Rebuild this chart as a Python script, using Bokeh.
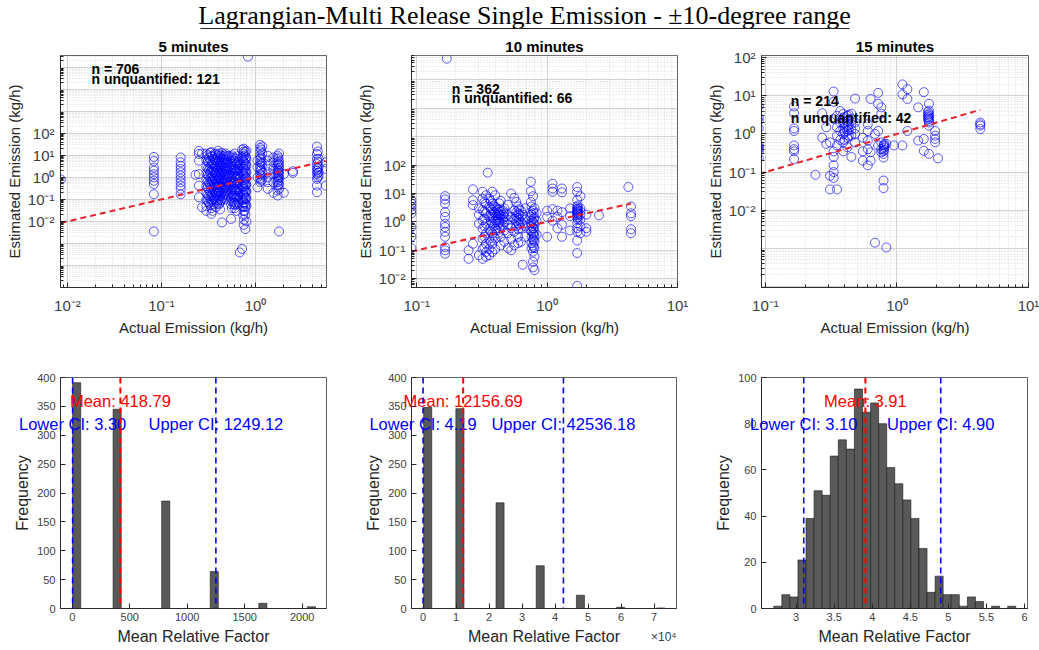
import numpy as np
from bokeh.plotting import figure
from bokeh.models import Range1d, FixedTicker, CustomJSTickFormatter, Label, Span
from bokeh.layouts import column, row
from bokeh.core.properties import value
from bokeh.embed import file_html
from bokeh.resources import INLINE

# ---------------- data ----------------
suptitle = "Lagrangian-Multi Release Single Emission - \u00b110-degree range"
panel_titles = ["5 minutes", "10 minutes", "15 minutes"]
n_total = [706, 362, 214]
n_unquantified = [121, 66, 42]

# 5 minutes: actual emission per column and estimated emissions in that column
act_5 = [0.0085, 0.083, 0.16, 0.23, 0.25, 0.27, 0.30, 0.32, 0.34, 0.36, 0.38, 0.40, 0.42, 0.44,
         0.46, 0.48, 0.50, 0.52, 0.55, 0.58, 0.60, 0.63, 0.66, 0.68, 0.72, 0.75, 0.78, 0.80, 0.83,
         1.05, 1.12, 1.18, 1.35, 1.55, 1.72, 1.78, 2.0, 2.5, 4.5, 4.7, 5.6,
         0.31, 0.33, 0.35, 0.37, 0.39, 0.41, 0.43, 0.45, 0.47, 0.49, 0.56, 0.59, 0.61, 0.64,
         0.74, 0.77, 0.79, 1.15, 1.75, 4.6]
est_5 = [
    [0.8],
    [8.5, 5.5, 2.8, 2.0, 1.4, 1.0, 0.7, 0.5, 0.17, 0.0035],
    [8.0, 4.8, 3.3, 2.4, 1.7, 1.2, 0.85, 0.6, 0.42, 0.3, 0.17],
    [1.3],
    [16, 11.5, 5.7, 1.4, 0.42, 0.125],
    [0.044, 12],
    [12, 6, 3, 1.5, 0.8, 0.4, 0.2, 0.1, 0.05, 0.03],
    [8, 4.5, 2.2, 1.1, 0.55, 0.28, 0.14, 0.07],
    [14, 9, 4, 2, 1, 0.6, 0.3, 0.15, 0.08, 0.04, 0.022],
    [7, 3.5, 1.8, 0.9, 0.5, 0.25, 0.12, 0.06],
    [11, 5.5, 2.8, 1.4, 0.7, 0.35, 0.18, 0.09, 0.045],
    [16, 10, 5, 2.5, 1.3, 0.7, 0.35, 0.18, 0.09],
    [8, 4, 2, 1.1, 0.55, 0.28, 0.14, 0.07, 0.035],
    [13, 6.5, 3.2, 1.6, 0.8, 0.4, 0.2, 0.1, 0.009],
    [9, 4.5, 2.3, 1.2, 0.6, 0.3, 0.15],
    [12, 6, 3, 1.5, 0.75, 0.38, 0.19, 0.1],
    [9, 4.5, 2.2, 1.1, 0.6, 0.3, 0.15],
    [9.6, 3, 1.2, 0.45],
    [8, 4, 2, 1, 0.5, 0.25, 0.12, 0.06, 0.013],
    [6, 3, 1.5, 0.7, 0.35, 0.17, 0.08],
    [12, 5.5, 2.5, 1.2, 0.6, 0.3, 0.15, 0.07, 0.04],
    [4, 2, 1, 0.5, 0.25, 0.12, 0.06, 0.03],
    [5, 2.5, 1.2, 0.6, 0.3, 0.15, 0.07],
    [0.00039, 3.5, 0.9, 0.2],
    [0.00056, 18, 8, 1.8, 0.4, 0.1, 0.05],
    [20, 15, 9, 5, 2.5, 1.2, 0.6, 0.3, 0.15, 0.07, 0.03, 0.012, 0.007],
    [14, 6, 3, 1.5, 0.8, 0.4, 0.2, 0.1, 0.045, 0.02, 0.0045],
    [16, 7, 3.5, 1.7, 0.9, 0.45, 0.22, 0.11, 0.05, 0.01],
    [3.0e5],
    [5.7, 2.8, 1.0, 0.35],
    [30, 22, 15, 10, 7, 5, 3.5, 2.6, 2.0, 1.4, 0.9, 0.6],
    [25, 12, 4, 1.6, 0.8],
    [9.6, 5.7, 3.4, 1.7, 1.0, 0.6, 0.3],
    [8, 4.8, 2.4, 1.4, 0.6, 0.2],
    [9.6, 6.8, 4.8, 3.4, 2.4, 1.7, 1.2, 0.84, 0.6, 0.42, 0.25, 0.15],
    [12, 5.5, 3.8, 2.7, 1.9, 1.3, 0.9, 0.5, 0.3, 0.0035],
    [1.4, 0.2],
    [1.9, 1.6],
    [25, 11.5, 6.8, 4.0, 2.8, 2.0, 1.4, 0.84, 0.42, 0.21],
    [7, 3, 1.7, 1.2],
    [4.8, 2.4, 0.42],
    [10, 5, 2.5, 1.3, 0.65, 0.33, 0.16, 0.08],
    [13, 6, 3, 1.6, 0.9, 0.45, 0.22, 0.11, 0.055],
    [9, 4.5, 2.4, 1.2, 0.7, 0.35, 0.18, 0.09, 0.03],
    [12, 6, 3, 1.6, 0.8, 0.4, 0.2, 0.1],
    [8, 4, 2, 1, 0.5, 0.25, 0.13, 0.065],
    [12, 6, 3.2, 1.7, 0.9, 0.45, 0.22, 0.11, 0.06],
    [10, 5, 2.6, 1.4, 0.7, 0.36, 0.18, 0.09],
    [7, 3.5, 1.8, 0.95, 0.5, 0.25, 0.12],
    [10, 5, 2.6, 1.3, 0.65, 0.33, 0.17],
    [7, 3.6, 1.8, 0.9, 0.45, 0.23],
    [10, 5, 2.5, 1.3, 0.65, 0.33, 0.16, 0.08, 0.04],
    [8, 4, 2, 1, 0.5, 0.25, 0.12, 0.06],
    [7, 3.5, 1.8, 0.9, 0.45, 0.22, 0.11, 0.055],
    [9, 4.5, 2.2, 1.1, 0.55, 0.28, 0.14],
    [12, 6, 3, 1.5, 0.75, 0.38, 0.19, 0.09, 0.045, 0.02],
    [10, 4.5, 2.2, 1.1, 0.55, 0.28, 0.14, 0.07, 0.03],
    [8, 4, 2, 1, 0.5, 0.25, 0.12, 0.06],
    [18, 8, 4.5, 2.2, 1.2, 0.7],
    [8, 4, 2, 1.5, 1.0, 0.7, 0.45],
    [15, 5, 2.4, 1.6, 1.0],
]

act_10 = [0.091, 0.165, 0.17, 0.25, 0.27, 0.30, 0.32, 0.34, 0.35, 0.36, 0.38, 0.40, 0.42, 0.44,
          0.47, 0.50, 0.53, 0.56, 0.60, 0.63, 0.65, 0.68, 0.75, 0.78, 0.80, 0.83, 1.0, 1.1, 1.2,
          1.3, 1.5, 1.7, 1.8, 2.0, 2.5, 4.2, 4.4,
          0.33, 0.37, 0.39, 0.41, 0.43, 0.46, 0.58, 0.61, 0.76, 0.79, 1.72]
est_10 = [
    [5.8, 4.4, 3.4, 2.6, 2.0, 0.66, 0.3, 0.12],
    [8.1, 6.2, 4.4, 2.2, 1.5, 0.87, 0.66, 0.45, 0.3, 0.13, 0.1, 0.076],
    [5.6e5],
    [0.1, 0.05],
    [14, 5.8, 3.9, 0.17],
    [3.0, 0.87, 0.067, 1.8],
    [11.5, 6.6, 2.6, 1.15, 0.58, 0.26, 0.11, 0.05],
    [8.7, 4.4, 2.0, 0.87, 0.39, 0.17, 0.087, 0.06],
    [54],
    [6.6, 3.4, 1.5, 0.58, 0.26, 0.11, 0.067],
    [11.5, 4.4, 2.6, 1.5, 0.87, 0.39, 0.17, 0.087],
    [8.7, 3.4, 2.0, 1.15, 0.58, 0.26, 0.11],
    [2.6, 2.0, 1.5, 1.15, 0.87, 0.39],
    [5.5, 2.3, 1.7, 1.3, 0.7, 0.3, 0.15],
    [3.0, 2.0, 1.5, 1.0, 0.5, 0.2],
    [4.0, 1.8, 1.2, 0.8, 0.4, 0.12],
    [10, 1.5, 0.6, 0.25, 0.1],
    [7, 2.5, 1.3, 0.45, 0.15],
    [3.5, 2.0, 1.4, 0.9, 0.55, 0.3, 0.18],
    [2.5, 1.6, 1.0, 0.6, 0.2],
    [1.8, 0.8, 0.031],
    [3.0, 1.2, 0.7, 0.3],
    [26, 12, 5, 2.2, 1.5, 0.9, 0.5],
    [8, 2.5, 1.0, 0.6, 0.4, 0.25, 0.15, 0.09, 0.04, 0.025],
    [3, 1.4, 0.8, 0.45, 0.3, 0.2, 0.12, 0.06, 0.02],
    [2.0, 1.1, 0.35],
    [2.5, 1.5, 0.3],
    [22, 15, 11.5, 2.8, 1.1],
    [2.5, 1.5, 0.6],
    [15, 11, 2.2, 0.8, 0.3],
    [3.0, 1.6, 0.5],
    [17, 11.5, 6, 3.4, 2.8, 2.5, 2.2, 2.0, 1.7, 1.4, 0.9, 0.6, 0.45, 0.22, 0.08, 0.0056],
    [8, 3.0, 2.4, 1.8, 1.2, 0.7, 0.4],
    [1.8, 0.6, 0.45],
    [1.7],
    [17],
    [3.5, 2.0, 1.6, 0.55, 0.4],
    [5, 2.3, 1.3, 0.7, 0.3, 0.13],
    [5.5, 3, 1.8, 1.0, 0.45, 0.2],
    [3.8, 2.2, 1.3, 0.7, 0.3],
    [3.0, 1.7, 1.0, 0.5],
    [4.5, 2.8, 1.8, 1.0, 0.6],
    [2.5, 1.8, 1.2, 0.8],
    [5, 2.2, 1.6, 1.1, 0.7],
    [2.8, 1.8, 1.2, 0.8],
    [3.5, 1.8, 1.1, 0.7, 0.45, 0.3, 0.18, 0.12],
    [2.0, 1.3, 0.9, 0.6, 0.35, 0.22, 0.13],
    [3.8, 3.0, 2.6, 2.3, 2.0, 1.8, 1.5, 1.2],
]

act_15 = [0.089, 0.165, 0.24, 0.27, 0.29, 0.31, 0.33, 0.35, 0.37, 0.39, 0.42, 0.45, 0.48, 0.55,
          0.60, 0.63, 0.68, 0.72, 0.76, 0.79, 0.83, 0.95, 1.1, 1.2, 1.45, 1.6, 1.75, 1.95, 2.05, 4.3,
          0.40, 0.43, 0.80, 1.72]
est_15 = [
    [5.3, 2.7, 2.2, 1.4, 0.5, 0.45, 0.4, 0.35, 0.23],
    [5.3, 3.5, 1.4, 1.2, 0.5, 0.4, 0.35, 0.22],
    [0.085],
    [3.5, 0.8],
    [1.5, 0.55],
    [0.08, 0.035, 0.6],
    [13, 7, 2.5, 0.35, 0.25, 0.15, 0.1, 0.07],
    [3.0, 1.5, 0.9, 0.5, 0.035],
    [4, 2, 1.2, 0.7],
    [3.4, 2.6, 1.9, 1.4, 1.0, 0.6, 0.35],
    [3.0, 2.2, 1.6, 1.2, 0.8, 0.45],
    [3.4, 2.5, 1.8, 1.3, 0.9, 0.25],
    [8.5, 2.0, 1.4, 1.0, 0.6],
    [0.2, 0.35, 0.8],
    [1.8, 1.2, 0.67, 0.4, 0.15],
    [8.3, 0.33, 0.2],
    [1.0, 0.0014],
    [12, 6.2, 1.2, 0.5],
    [5, 3.4, 0.6, 0.4, 0.33],
    [0.5, 0.42, 0.35, 0.3, 0.24, 0.06, 0.038],
    [0.00105, 0.55],
    [0.5],
    [0.5, 20, 11],
    [1.2, 15, 8.3],
    [5, 0.67],
    [12.5, 0.74, 0.36],
    [6.2, 4.1, 3.4, 3.0, 2.7, 2.5, 2.2, 2.0, 1.65, 0.3],
    [1.2, 0.9, 0.74, 0.6],
    [0.23],
    [2.0, 1.8, 1.65, 1.35],
    [2.8, 2.0, 1.5, 1.1, 0.7],
    [3.2, 2.4, 1.7, 1.3, 0.9],
    [0.55, 0.45, 0.38, 0.5],
    [3.8, 3.2, 2.8, 2.4],
]

# bootstrap histograms: bin left edges, bin widths, counts
hist5_left = [3.3, 355.3, 777.7, 1200.1, 1622.5, 2044.9]
hist5_width = 70.4
hist5_count = [391, 345, 186, 64, 9, 3]

hist10_left = [200, 9940, 22115, 34290, 46465, 58640, 70815]
hist10_width = 2435
hist10_count = [348, 346, 183, 74, 23, 2, 1]

hist15_left = [2.706, 2.812, 2.918, 3.024, 3.130, 3.236, 3.342, 3.448, 3.554, 3.660,
               3.766, 3.872, 3.978, 4.084, 4.190, 4.296, 4.402, 4.508, 4.614, 4.720,
               4.826, 4.932, 5.038, 5.144, 5.250, 5.356, 5.462, 5.568, 5.674, 5.780]
hist15_width = 0.106
hist15_count = [1, 6, 5, 21, 39, 51, 49, 66, 73, 69, 95, 85, 89, 80, 61, 54, 47, 39, 26, 7,
                14, 6, 6, 1, 5, 3, 0, 1, 0, 1]

hist_mean = [418.79, 12156.69, 3.91]
hist_ci_low = [3.30, 4.19, 3.10]
hist_ci_high = [1249.12, 42536.18, 4.90]

# ---------------- style ----------------
FONT = "Liberation Sans"
TXT = "#262626"
TICK_TXT = "#404040"

SUP_JS = """
const e = Math.round(Math.log10(tick));
const m = {"-":"\\u207b","0":"\\u2070","1":"\\u00b9","2":"\\u00b2","3":"\\u00b3","4":"\\u2074",
           "5":"\\u2075","6":"\\u2076","7":"\\u2077","8":"\\u2078","9":"\\u2079"};
return "10" + String(e).split("").map(c => m[c]).join("");
"""

decades = [10.0 ** k for k in range(-7, 8)]
subdecades = [m * 10.0 ** k for k in range(-7, 8) for m in range(2, 10)]


def flatten(xcols, ycols):
    xs, ys = [], []
    for xv, col in zip(xcols, ycols):
        for yv in col:
            xs.append(xv)
            ys.append(yv)
    return xs, ys


def base_style(p):
    p.background_fill_color = "white"
    p.border_fill_color = "white"
    p.outline_line_color = TXT
    p.outline_line_width = 0.8
    p.outline_line_alpha = 0.9
    for ax in (p.xaxis[0], p.yaxis[0]):
        ax.axis_line_color = TXT
        ax.axis_line_width = 0.9
        ax.major_tick_line_color = TXT
        ax.minor_tick_line_color = TXT
        ax.major_tick_in = 5
        ax.major_tick_out = 0
        ax.minor_tick_in = 3
        ax.minor_tick_out = 0
        ax.major_label_text_color = TICK_TXT
        ax.major_label_text_font = FONT
        ax.axis_label_text_color = TXT
        ax.axis_label_text_font = FONT
        ax.axis_label_text_font_style = "normal"


def scatter_panel(i, xcols, ycols, xexp, yexp, xtick_exp, width, lb, rb, ann_x, ann_y):
    p = figure(width=width, height=310, x_axis_type="log", y_axis_type="log",
               x_range=Range1d(10 ** xexp[0], 10 ** xexp[1]),
               y_range=Range1d(10 ** yexp[0], 10 ** yexp[1]),
               output_backend="svg", toolbar_location=None,
               min_border_left=lb, min_border_right=rb, min_border_top=25, min_border_bottom=53)
    base_style(p)
    p.title.text = panel_titles[i]
    p.title.align = "center"
    p.title.text_font = FONT
    p.title.text_font_size = "15px"
    p.title.text_font_style = "bold"
    p.title.text_color = "black"
    p.title.standoff = 2

    p.xaxis.ticker = FixedTicker(ticks=[10.0 ** k for k in xtick_exp], minor_ticks=subdecades)
    p.yaxis.ticker = FixedTicker(ticks=[10.0 ** k for k in range(-2, 3)], minor_ticks=subdecades)
    p.xaxis.formatter = CustomJSTickFormatter(code=SUP_JS)
    p.yaxis.formatter = CustomJSTickFormatter(code=SUP_JS)
    p.xaxis.major_label_text_font_size = "15px"
    p.yaxis.major_label_text_font_size = "15px"
    p.xaxis.major_label_standoff = 9
    p.yaxis.major_label_standoff = 6
    p.xaxis.axis_label = "Actual Emission (kg/h)"
    p.yaxis.axis_label = "Estimated Emission (kg/h)"
    p.xaxis.axis_label_text_font_size = "15px"
    p.yaxis.axis_label_text_font_size = "15px"
    p.xaxis.axis_label_standoff = 2
    p.yaxis.axis_label_standoff = 2

    for g in (p.xgrid[0], p.ygrid[0]):
        g.ticker = FixedTicker(ticks=decades, minor_ticks=subdecades)
        g.grid_line_color = "#c8c8c8"
        g.grid_line_width = 0.8
        g.minor_grid_line_color = "#d2d2d2"
        g.minor_grid_line_dash = "1 2"
        g.minor_grid_line_width = 0.8

    xs, ys = flatten(xcols, ycols)
    p.scatter(xs, ys, marker="circle", size=9, fill_color=None, line_color="#0000ff",
              line_width=0.8, line_alpha=0.8)
    lo, hi = min(xs), max(xs)
    p.line([lo, hi], [lo, hi], line_color="#e8202a", line_width=2, line_dash="6 4")

    p.add_layout(Label(x=ann_x, y=ann_y[0], text=f"n = {n_total[i]}", text_font=FONT,
                       text_font_size="14px", text_font_style="bold", text_color="black",
                       text_baseline="middle"))
    p.add_layout(Label(x=ann_x, y=ann_y[1], text=f"n unquantified: {n_unquantified[i]}",
                       text_font=FONT, text_font_size="14px", text_font_style="bold",
                       text_color="black", text_baseline="middle"))
    return p


def hist_panel(i, left, width_bin, counts, xr, ymax, yticks, xticks, fig_w, lb, rb,
               fmt_code=None, free=("low",)):
    p = figure(width=fig_w, height=310, x_range=Range1d(*xr), y_range=Range1d(0, ymax),
               output_backend="svg", toolbar_location=None,
               min_border_left=lb, min_border_right=rb, min_border_top=37, min_border_bottom=42)
    base_style(p)
    p.xgrid.visible = False
    p.ygrid.visible = False
    p.xaxis.ticker = FixedTicker(ticks=xticks)
    p.yaxis.ticker = FixedTicker(ticks=yticks)
    if fmt_code:
        p.xaxis.formatter = CustomJSTickFormatter(code=fmt_code)
    for ax in (p.xaxis[0], p.yaxis[0]):
        ax.major_label_text_font_size = "11px"
        ax.axis_label_text_font_size = "16px"
    p.xaxis.major_label_standoff = 4
    p.yaxis.major_label_standoff = 5
    p.xaxis.axis_label_standoff = 4
    p.yaxis.axis_label_standoff = 3
    p.xaxis.axis_label = "Mean Relative Factor"
    p.yaxis.axis_label = "Frequency"

    rights = [l + width_bin for l in left]
    p.quad(left=left, right=rights, top=counts, bottom=0, fill_color="#595959",
           line_color="#1a1a1a", line_width=0.6)

    m, lo, hi = hist_mean[i], hist_ci_low[i], hist_ci_high[i]
    p.add_layout(Span(location=m, dimension="height", line_color="#ff0000",
                      line_width=2, line_dash="6 4"))
    for v in (lo, hi):
        p.add_layout(Span(location=v, dimension="height", line_color="#0000ff",
                          line_width=1.6, line_dash="6 4"))
    labels = {
        "mean": Label(x=m, y=0.9 * ymax, text=f"Mean: {m:.2f}", text_align="center",
                      text_baseline="middle", text_color="#ff0000", text_font=FONT,
                      text_font_size="16.5px"),
        "low": Label(x=lo, y=0.8 * ymax, text=f"Lower CI: {lo:.2f}", text_align="center",
                     text_baseline="middle", text_color="#0000ff", text_font=FONT,
                     text_font_size="16.5px"),
        "high": Label(x=hi, y=0.8 * ymax, text=f"Upper CI: {hi:.2f}", text_align="center",
                      text_baseline="middle", text_color="#0000ff", text_font=FONT,
                      text_font_size="16.5px"),
    }
    for key, lab in labels.items():
        # labels that run past the frame edge go in a side panel so they are not clipped
        p.add_layout(lab, "above" if key in free else "center")
    return p


# ---------------- title strip ----------------
t = figure(width=1039, height=30, x_range=Range1d(0, 1039), y_range=Range1d(0, 30),
           output_backend="svg", toolbar_location=None, min_border=0)
t.axis.visible = False
t.grid.visible = False
t.outline_line_color = None
t.text(x=[524], y=[15], text=[suptitle], text_font=value("Liberation Serif"),
       text_font_size="26px", text_align="center", text_baseline="middle", text_color="black")
t.segment(x0=[200], y0=[2], x1=[849], y1=[2], line_color="#222222", line_width=1.2)

# ---------------- panels ----------------
s1 = scatter_panel(0, act_5, est_5, (-2.074, 0.755), (-5.0, 5.53), [-2, -1, 0], 345, 60, 19,
                   0.018, (8.5e4, 3.0e4))
s2 = scatter_panel(1, act_10, est_10, (-1.04, 1.0), (-2.31, 5.86), [-1, 0, 1], 345, 66, 13,
                   0.186, (4.9e4, 2.3e4))
s3 = scatter_panel(2, act_15, est_15, (-1.03, 1.0), (-4.03, 2.06), [-1, 0, 1], 349, 71, 11,
                   0.156, (7.2, 2.6))

h1 = hist_panel(0, hist5_left, hist5_width, hist5_count, (-102, 2211), 400,
                list(range(0, 401, 50)), [0, 500, 1000, 1500, 2000], 345, 60, 19)
h2 = hist_panel(1, hist10_left, hist10_width, hist10_count, (-3500, 76800), 400,
                list(range(0, 401, 50)), [k * 10000 for k in range(0, 8)], 357, 66, 25,
                fmt_code="return (tick/10000).toFixed(0);", free=("low", "mean"))
h2.add_layout(Label(x=76800, y=-50, text="\u00d710\u2074", text_align="right",
                    text_baseline="middle", text_color=TICK_TXT, text_font=FONT,
                    text_font_size="12px"), "right")
h3 = hist_panel(2, hist15_left, hist15_width, hist15_count, (2.545, 6.04), 100,
                list(range(0, 101, 20)), [3, 3.5, 4, 4.5, 5, 5.5, 6], 337, 59, 12)

layout = column(t, row(s1, s2, s3), row(h1, h2, h3))
open("out.html", "w").write(file_html(layout, INLINE))
